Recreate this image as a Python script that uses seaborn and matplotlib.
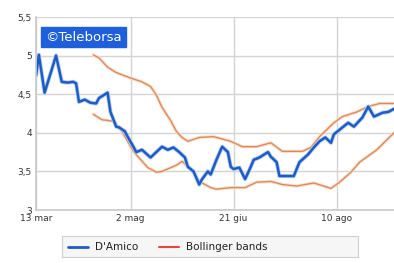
import matplotlib
matplotlib.use("Agg")
import matplotlib.pyplot as plt
import seaborn as sns
import pandas as pd

# trading-day index and values
prezzo_x = [0, 1, 3, 7, 9, 11, 13, 14, 15, 17, 19, 21, 22, 25, 26, 28, 29, 31, 32,
            34, 35, 37, 40, 42, 44, 46, 48, 50, 52, 53, 55, 57, 58, 60, 61, 63, 65,
            67, 68, 69, 71, 73, 75, 76, 78, 81, 82, 84, 85, 88, 90, 92, 95, 97, 99,
            101, 103, 104, 106, 109, 111, 114, 116, 118, 121, 123, 125]
prezzo_y = [4.74, 5.01, 4.52, 5.00, 4.66, 4.65, 4.66, 4.64, 4.40, 4.43, 4.39, 4.38,
            4.45, 4.52, 4.27, 4.08, 4.07, 4.02, 3.95, 3.82, 3.75, 3.78, 3.68, 3.75,
            3.82, 3.78, 3.81, 3.75, 3.68, 3.56, 3.50, 3.33, 3.40, 3.50, 3.46, 3.65,
            3.82, 3.75, 3.56, 3.53, 3.55, 3.40, 3.56, 3.65, 3.68, 3.75, 3.69, 3.62,
            3.44, 3.44, 3.44, 3.62, 3.72, 3.81, 3.89, 3.94, 3.87, 3.98, 4.04, 4.13,
            4.08, 4.20, 4.34, 4.21, 4.26, 4.27, 4.31]

sup_x = [20, 22, 25, 28, 33, 37, 40, 42, 44, 47, 49, 51, 53, 57, 62, 68, 72, 77,
         82, 86, 93, 96, 99, 104, 107, 112, 116, 120, 125]
sup_y = [5.01, 4.97, 4.85, 4.78, 4.71, 4.66, 4.60, 4.49, 4.33, 4.16, 4.02, 3.94,
         3.89, 3.94, 3.95, 3.89, 3.82, 3.82, 3.87, 3.76, 3.76, 3.81, 3.95, 4.13,
         4.21, 4.27, 4.34, 4.38, 4.38]

inf_x = [20, 23, 27, 30, 34, 39, 42, 44, 49, 51, 54, 57, 61, 63, 68, 73, 77, 82,
         86, 91, 97, 103, 106, 110, 113, 119, 125]
inf_y = [4.24, 4.17, 4.15, 4.02, 3.76, 3.55, 3.49, 3.50, 3.58, 3.63, 3.53, 3.37,
         3.29, 3.27, 3.29, 3.29, 3.36, 3.37, 3.33, 3.31, 3.35, 3.28, 3.36, 3.49,
         3.62, 3.78, 4.00]

tick_pos = [0, 33, 69, 105]
tick_lab = ["13 mar", "2 mag", "21 giu", "10 ago"]
y_ticks = [3, 3.5, 4, 4.5, 5, 5.5]
y_lab = ["3", "3,5", "4", "4,5", "5", "5,5"]

df_p = pd.DataFrame({"x": prezzo_x, "y": prezzo_y})
df_s = pd.DataFrame({"x": sup_x, "y": sup_y})
df_i = pd.DataFrame({"x": inf_x, "y": inf_y})

sns.set_style("white")
plt.rcParams["font.family"] = ["DejaVu Sans"]

fig = plt.figure(figsize=(3.94, 2.63), dpi=100)
ax = fig.add_axes([36 / 394, 1 - 210 / 263, 358 / 394, 193 / 263])

band_col = "#dc8a5c"
for d in (df_s, df_i):
    sns.lineplot(data=d, x="x", y="y", ax=ax, color="#fae0cf", linewidth=2.4)
    sns.lineplot(data=d, x="x", y="y", ax=ax, color=band_col, linewidth=1.0)
sns.lineplot(data=df_p, x="x", y="y", ax=ax, color="#b5d0f4", linewidth=3.0)
sns.lineplot(data=df_p, x="x", y="y", ax=ax, color="#1f5bc4", linewidth=1.8)

ax.set_xlim(0, 125)
ax.set_ylim(3, 5.5)
ax.set_xticks(tick_pos)
ax.set_xticklabels(tick_lab)
ax.set_yticks(y_ticks)
ax.set_yticklabels(y_lab)
ax.set_xlabel("")
ax.set_ylabel("")
ax.grid(True, color="#d4d4d4", linewidth=1.0)
ax.tick_params(axis="both", labelsize=6.5, colors="#333333", length=0, pad=3)
for s in ["top", "right"]:
    ax.spines[s].set_visible(False)
for s in ["left", "bottom"]:
    ax.spines[s].set_color("#c8c8c8")
    ax.spines[s].set_linewidth(1.2)

ax.text(0.025, 0.93, "\u00a9Teleborsa", transform=ax.transAxes, fontsize=9.5,
        color="white", va="top", ha="left",
        bbox=dict(boxstyle="square,pad=0.3", facecolor="#1e60dc",
                  edgecolor="#1e60dc"))

leg_ax = fig.add_axes([62 / 394, 1 - 257 / 263, 296 / 394, 21 / 263])
leg_ax.set_xlim(0, 296)
leg_ax.set_ylim(0, 21)
leg_ax.set_xticks([])
leg_ax.set_yticks([])
leg_ax.set_facecolor("#f6f6f6")
for s in leg_ax.spines.values():
    s.set_color("#cfcfcf")
leg_ax.plot([6, 26], [10.5, 10.5], color="#1f5bc4", linewidth=2)
leg_ax.text(33, 10.5, "D'Amico", fontsize=7.5, va="center", color="#222222")
leg_ax.plot([97, 117], [10.5, 10.5], color="#e04a3c", linewidth=1.5)
leg_ax.text(124, 10.5, "Bollinger bands", fontsize=7.5, va="center",
            color="#222222")

fig.savefig("out.png", dpi=100)
